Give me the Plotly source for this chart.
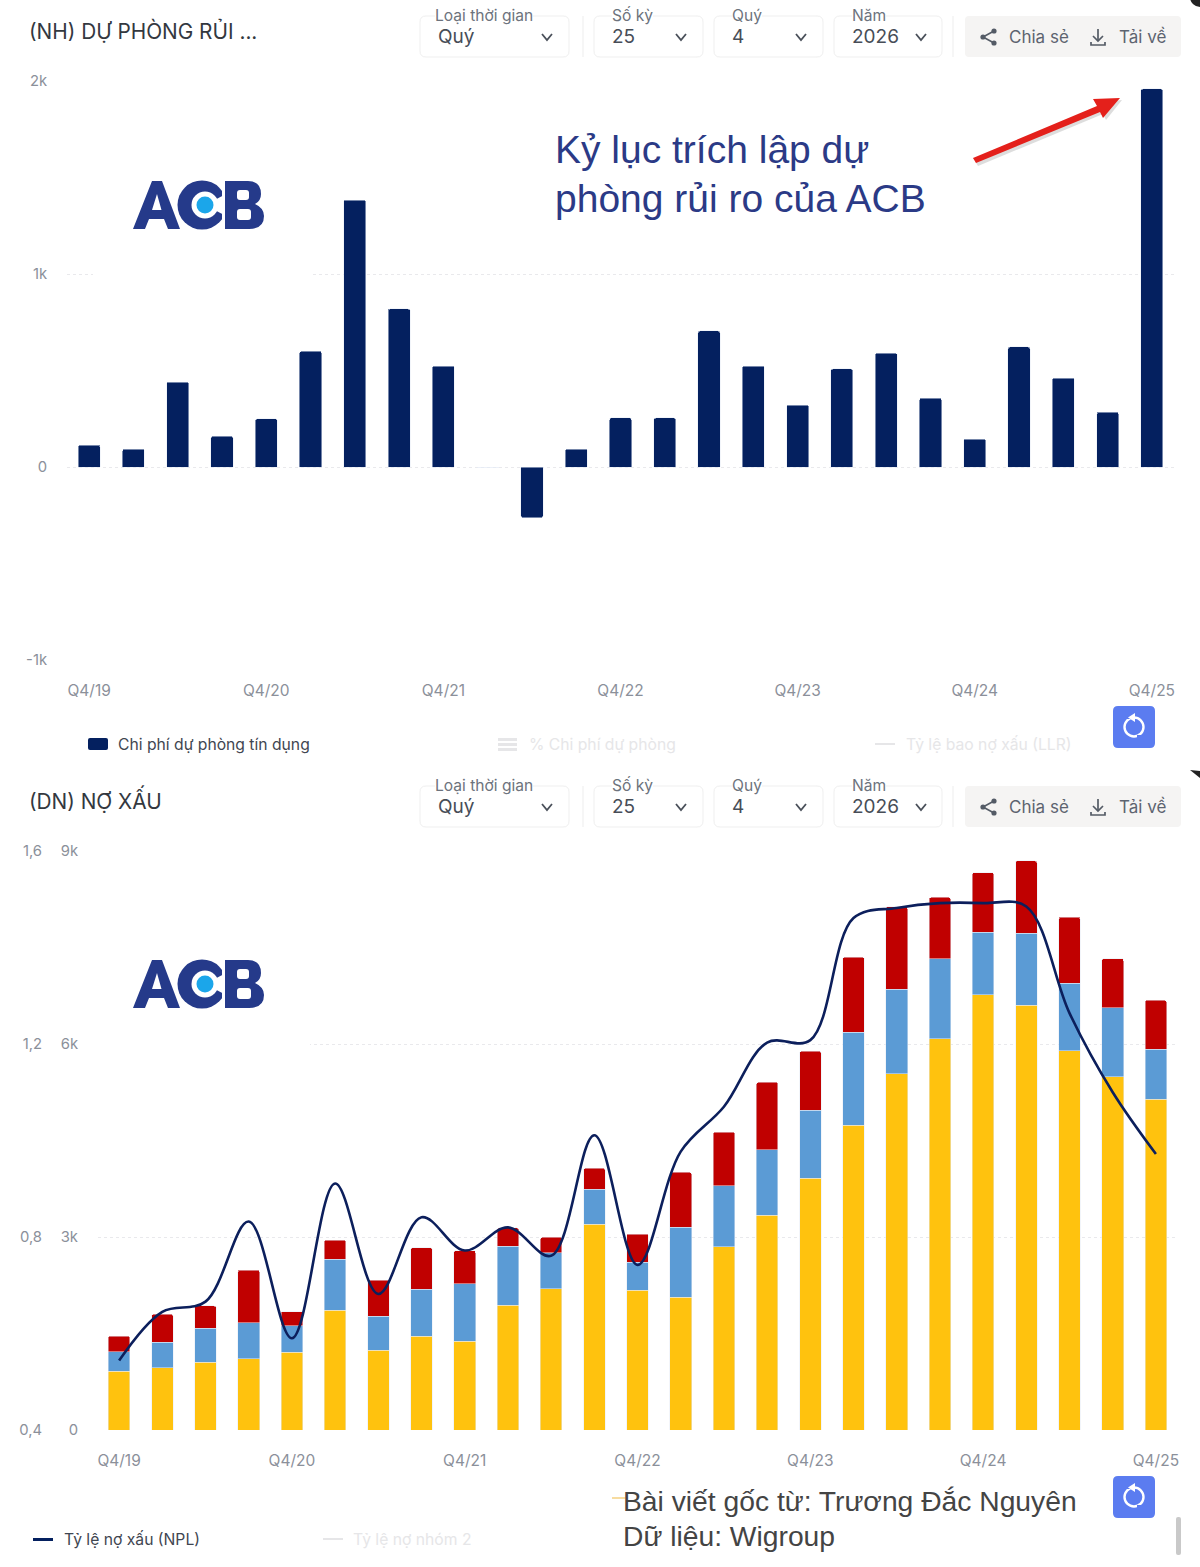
import plotly.graph_objects as go

# ---------- data ----------
quarters = ["Q4/19","Q1/20","Q2/20","Q3/20","Q4/20","Q1/21","Q2/21","Q3/21","Q4/21","Q1/22","Q2/22","Q3/22","Q4/22",
            "Q1/23","Q2/23","Q3/23","Q4/23","Q1/24","Q2/24","Q3/24","Q4/24","Q1/25","Q2/25","Q3/25","Q4/25"]
year_ticks = ["Q4/19","Q4/20","Q4/21","Q4/22","Q4/23","Q4/24","Q4/25"]
provision = [114,93,440,160,249,600,1383,819,523,0,-264,93,254,254,705,523,321,508,590,357,145,622,461,285,1959]
npl_group3 = [917,968,1057,1108,1212,1861,1239,1461,1379,1943,2192,3202,2176,2067,2845,3342,3913,4741,5534,6078,6762,6602,5896,5492,5145]
npl_group4 = [300,395,524,560,409,797,529,726,891,917,560,544,435,1083,948,1015,1057,1441,1317,1248,975,1119,1052,1068,773]
npl_group5 = [244,435,347,819,218,295,560,647,518,280,244,322,435,855,839,1048,917,1166,1284,954,926,1124,1026,766,762]
npl_ratio = [0.544,0.645,0.666,0.832,0.590,0.911,0.682,0.841,0.772,0.820,0.761,1.011,0.742,0.977,1.070,1.203,1.208,
             1.461,1.482,1.492,1.492,1.485,1.264,1.100,0.972]
top_ticks = [-1000,0,1000,2000]
top_ticktext = ["-1k","0","1k","2k"]
left_ticks = [0,3000,6000,9000]
left_ticktext = ["0","3k","6k","9k"]
ratio_ticks = [0.4,0.8,1.2,1.6]
ratio_ticktext = ["0,4","0,8","1,2","1,6"]

# ---------- page helpers ----------
W, H = 1200, 1567
FONT = "Inter"
NAVY = "#04205f"
TICK = "#8b909a"
FAINT = "#e6e6e8"
fx = lambda x: x / W
fy = lambda y: 1 - y / H
shapes, annots = [], []

def rect(x0, y0, x1, y1, fill=None, line=None, lw=1):
    shapes.append(dict(type="rect", xref="paper", yref="paper", x0=fx(x0), x1=fx(x1), y0=fy(y1), y1=fy(y0),
                       fillcolor=fill or "rgba(0,0,0,0)", line=dict(color=line or "rgba(0,0,0,0)", width=lw)))

def path(cmds, fill=None, line=None, lw=1):
    out = []
    for c in cmds:
        if isinstance(c, str):
            out.append(c)
        else:
            out.append(f"{fx(c[0]):.5f},{fy(c[1]):.5f}")
    shapes.append(dict(type="path", xref="paper", yref="paper", path=" ".join(out),
                       fillcolor=fill or "rgba(0,0,0,0)", line=dict(color=line or "rgba(0,0,0,0)", width=lw)))

def rrect(x0, y0, x1, y1, r, fill=None, line=None, lw=1):
    path(["M",(x0+r,y0),"L",(x1-r,y0),"Q",(x1,y0),(x1,y0+r),"L",(x1,y1-r),"Q",(x1,y1),(x1-r,y1),
          "L",(x0+r,y1),"Q",(x0,y1),(x0,y1-r),"L",(x0,y0+r),"Q",(x0,y0),(x0+r,y0),"Z"], fill, line, lw)

def circle(cx, cy, r, fill=None, line=None, lw=1):
    shapes.append(dict(type="circle", xref="paper", yref="paper", x0=fx(cx-r), x1=fx(cx+r), y0=fy(cy+r), y1=fy(cy-r),
                       fillcolor=fill or "rgba(0,0,0,0)", line=dict(color=line or "rgba(0,0,0,0)", width=lw)))

def text(x, y, s, size, color, anchor="left", family=FONT, bg=None):
    a = dict(xref="paper", yref="paper", x=fx(x), y=fy(y), text=s, showarrow=False, xanchor=anchor, yanchor="middle",
             font=dict(family=family, size=size, color=color), borderpad=0, borderwidth=0)
    if bg:
        a["bgcolor"] = bg
    annots.append(a)

def toolbar(dy, title):
    text(29, 31+dy-(1 if dy else 0), title, 20.8, "#33383f")
    boxes = [(420,569,"Loại thời gian",435,"Quý",438,547),
             (594,703,"Số kỳ",612,"25",612,681),
             (714,823,"Quý",732,"4",732,801),
             (834,942,"Năm",852,"2026",852,921)]
    for x0,x1,lab,lx,val,vx,cx in boxes:
        rrect(x0,16+dy,x1,57+dy,6,"#ffffff","#efefef",1)
        text(lx,15.5+dy,lab,15.6,"#6d737d",bg="#ffffff")
        text(vx,36.5+dy,val,19,"#474d57")
        path(["M",(cx-5,34+dy),"L",(cx,40+dy),"L",(cx+5,34+dy)],None,"#4a505a",1.8)
    rect(582.5,16+dy,583.5,57+dy,"#eeeeee")
    rect(952.5,16+dy,953.5,57+dy,"#eeeeee")
    rrect(965,16+dy,1181,57+dy,4,"#f5f4f3")
    # share icon
    path(["M",(994,31+dy),"L",(983,37+dy),"L",(994,43+dy)],None,"#545b66",1.6)
    for cx,cy in ((994,31),(983,37),(994,43)):
        circle(cx,cy+dy,2.6,"#545b66")
    text(1009,36.5+dy,"Chia sẻ",17,"#5d6470")
    # download icon
    path(["M",(1098,29+dy),"L",(1098,40+dy)],None,"#545b66",1.7)
    path(["M",(1093,36+dy),"L",(1098,41+dy),"L",(1103,36+dy)],None,"#545b66",1.7)
    path(["M",(1091,42+dy),"L",(1091,45+dy),"L",(1105,45+dy),"L",(1105,42+dy)],None,"#545b66",1.7)
    text(1119,36.5+dy,"Tải về",17,"#5d6470")

def logo(dy):
    n = "#253a8a"
    path(["M",(133,229+dy),"L",(152,181+dy),"L",(162,181+dy),"L",(180,229+dy),"L",(168,229+dy),"L",(164,219+dy),
          "L",(149,219+dy),"L",(145,229+dy),"Z"],n)
    path(["M",(152,210+dy),"L",(157,194+dy),"L",(161.5,210+dy),"Z"],"#ffffff")
    circle(202,205+dy,24.5,n)
    circle(205,205+dy,13.5,"#ffffff")
    path(["M",(205,205+dy),"L",(228,193+dy),"L",(228,217+dy),"Z"],"#ffffff")
    rect(222,180+dy,225,230+dy,"#ffffff")
    circle(205,205+dy,8.5,"#1ba6ea")
    path(["M",(225,181+dy),"L",(248,181+dy),"Q",(261,181+dy),(261,194+dy),"Q",(261,201+dy),(255,204+dy),
          "Q",(264,208+dy),(264,216+dy),"Q",(264,229+dy),(249,229+dy),"L",(225,229+dy),"Z"],n)
    rrect(237,190+dy,249,200+dy,3,"#ffffff")
    rrect(237,209+dy,251,220+dy,3,"#ffffff")

def reset_button(dy):
    rrect(1113,706+dy,1155,748+dy,5,"#5b7cf0")
    circle(1134,727+dy,9.5,None,"#ffffff",2.4)
    rect(1127,715+dy,1132,719+dy,"#5b7cf0")
    rect(1137,735+dy,1141,739+dy,"#5b7cf0")
    path(["M",(1135,713+dy),"L",(1135,722+dy),"L",(1128,717.5+dy),"Z"],"#ffffff")

# ---------- decoration ----------
rect(93,270,310,278,"#ffffff")
rect(90,1040,310,1048,"#ffffff")
toolbar(0,"(NH) DỰ PHÒNG RỦI ...")
toolbar(770,"(DN) NỢ XẤU")
logo(0)
logo(779)
reset_button(0)
reset_button(770)
text(555,149,"Kỷ lục trích lập dự",39,"#2b3a86",family="Liberation Sans")
text(555,198,"phòng rủi ro của ACB",39,"#2b3a86",family="Liberation Sans")
path(["M",(975,161),"L",(1099,109),"L",(1096,103),"L",(1122,100),"L",(1106,120),"L",(1103,114),"L",(978,166),"Z"],"rgba(120,120,120,0.25)")
path(["M",(973,158),"L",(1097,106),"L",(1093,99),"L",(1120,98),"L",(1103,118),"L",(1100,112),"L",(976,163),"Z"],"#e4201b")

# legends
rrect(88,738,108,750,2,NAVY)
text(118,744,"Chi phí dự phòng tín dụng",15.7,"#3f4651")
for yy in (738,743,748):
    rect(498,yy,517,yy+3,FAINT)
text(529,744,"% Chi phí dự phòng",15.7,FAINT)
rect(875,743,895,745,FAINT)
text(906,744,"Tỷ lệ bao nợ xấu (LLR)",15.7,FAINT)
rect(33,1538,53,1541,NAVY)
text(64,1539,"Tỷ lệ nợ xấu (NPL)",15.7,"#3f4651")
rect(323,1538,343,1540,FAINT)
text(353,1539,"Tỷ lệ nợ nhóm 2",15.7,FAINT)
rect(612,1497,626,1499,"#f7dca0")
text(623,1501,"Bài viết gốc từ: Trương Đắc Nguyên",28.25,"#444444",family="Liberation Sans")
text(623,1535.5,"Dữ liệu: Wigroup",28.25,"#444444",family="Liberation Sans")
rrect(1176,1517,1181,1555,2,"#c9c9c9")
circle(1200,-3,10,"#222222")
path(["M",(1190,770),"L",(1200,771),"L",(1200,778),"Z"],"#222222")

# ---------- chart ----------
fig = go.Figure()
fig.add_trace(go.Bar(x=quarters, y=provision, name="Chi phí dự phòng tín dụng", marker_color=NAVY, xaxis="x", yaxis="y"))
fig.add_trace(go.Bar(x=quarters, y=npl_group3, name="Nhóm 3", marker_color="#ffc20e", xaxis="x2", yaxis="y2"))
fig.add_trace(go.Bar(x=quarters, y=npl_group4, name="Nhóm 4", marker_color="#5b9bd5", xaxis="x2", yaxis="y2"))
fig.add_trace(go.Bar(x=quarters, y=npl_group5, name="Nhóm 5", marker_color="#c00000", xaxis="x2", yaxis="y2"))
fig.add_trace(go.Scatter(x=quarters, y=npl_ratio, name="Tỷ lệ nợ xấu (NPL)", mode="lines", xaxis="x2", yaxis="y3",
                         line=dict(color="#0c1f5c", width=2.6, shape="spline", smoothing=1.0)))

xtickfont = dict(family=FONT, size=15.5, color=TICK)
tickfont = dict(family=FONT, size=14.8, color=TICK)
GRID = dict(showgrid=True, gridcolor="#e9e9ec", griddash="dot", gridwidth=1, zeroline=False, showline=False)
HIDE = "rgba(0,0,0,0)"
xcommon = dict(type="category", categoryorder="array", categoryarray=quarters, tickmode="array", tickvals=year_ticks,
               ticktext=year_ticks, showgrid=False, zeroline=False, showline=False, ticks="outside", ticklen=16,
               tickcolor=HIDE, tickfont=xtickfont, range=[-0.5, 24.5])

fig.update_layout(
    width=W, height=H, margin=dict(l=0, r=0, t=0, b=0, pad=0, autoexpand=False),
    paper_bgcolor="#ffffff", plot_bgcolor="rgba(0,0,0,0)", showlegend=False,
    barmode="stack", bargap=0.5, barcornerradius=2, hovermode=False,
    font=dict(family=FONT),
    xaxis=dict(domain=[fx(67), fx(1174)], anchor="y", **xcommon),
    yaxis=dict(domain=[fy(660), fy(81)], anchor="x", range=[-1000, 2000], tickmode="array", tickvals=top_ticks,
               ticktext=top_ticktext, ticks="outside", ticklen=16, tickcolor=HIDE, tickfont=tickfont, **GRID),
    xaxis2=dict(domain=[fx(97.5), fx(1177.5)], anchor="y2", **xcommon),
    yaxis2=dict(domain=[fy(1430), fy(851)], anchor="free", position=fx(78), range=[0, 9000], tickmode="array",
                tickvals=left_ticks, ticktext=left_ticktext, ticks="", tickfont=tickfont, **GRID),
    yaxis3=dict(domain=[fy(1430), fy(851)], anchor="free", position=fx(42), overlaying="y2", side="left", range=[0.4, 1.6],
                tickmode="array", tickvals=ratio_ticks, ticktext=ratio_ticktext, ticks="", tickfont=tickfont,
                showgrid=False, zeroline=False, showline=False),
    shapes=shapes, annotations=annots,
)
fig.write_html("out.html", config={"displayModeBar": False},
               post_script="document.body.style.margin='0';document.body.style.overflow='hidden';")
